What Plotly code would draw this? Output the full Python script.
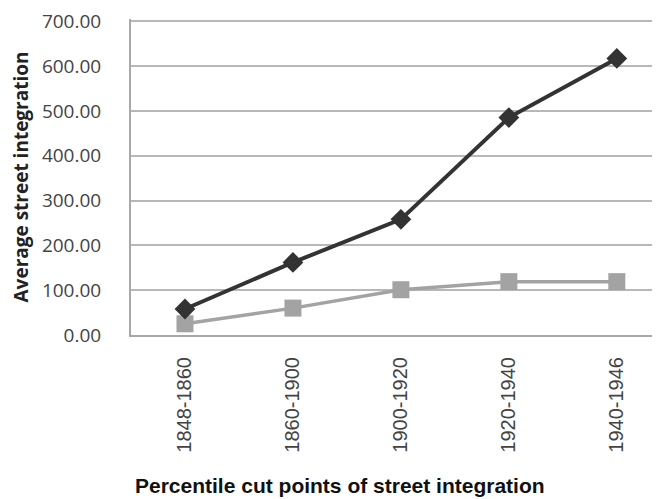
import plotly.graph_objects as go

periods = ["1848-1860", "1860-1900", "1900-1920", "1920-1940", "1940-1946"]
series_dark = [58, 162, 258, 485, 617]
series_light = [25, 60, 101, 119, 119]
y_ticks = [0, 100, 200, 300, 400, 500, 600, 700]

fig = go.Figure()
fig.add_trace(go.Scatter(
    x=periods, y=series_light, mode="lines+markers",
    line=dict(color="#a3a3a3", width=3.5),
    marker=dict(symbol="square", size=17, color="#a3a3a3"),
))
fig.add_trace(go.Scatter(
    x=periods, y=series_dark, mode="lines+markers",
    line=dict(color="#333333", width=4),
    marker=dict(symbol="diamond", size=16, color="#333333"),
))

# the page body has an 8px margin, so the figure is 8px smaller than the window
fig.update_layout(
    width=652, height=491, showlegend=False,
    paper_bgcolor="white", plot_bgcolor="white",
    margin=dict(l=123, r=0, t=7, b=164),
    font=dict(family="Open Sans", color="#444444"),
)
fig.update_xaxes(
    type="category", range=[-0.5, 4.4],
    tickangle=-90, ticklabelstandoff=12,
    tickfont=dict(family="Liberation Sans", size=20, color="#444444"),
    showgrid=False, showline=True, linecolor="#a8a8a8", linewidth=2,
)
fig.update_yaxes(
    range=[0, 705], tickvals=y_ticks,
    ticktext=[f"{v:.2f}" for v in y_ticks],
    tickfont=dict(family="Open Sans", size=19, color="#444444"),
    ticklabelstandoff=24, ticklabeloverflow="allow",
    showgrid=True, gridcolor="#b8b8b8", gridwidth=2,
    showline=True, linecolor="#a8a8a8", linewidth=2,
    zeroline=False,
    title=dict(text="Average street integration",
               font=dict(family="Open Sans", size=19, color="#222222",
                         weight="bold"),
               standoff=9),
)
fig.add_annotation(
    text="<b>Percentile cut points of street integration</b>",
    xref="paper", yref="paper", x=0.395, y=-0.475,
    xanchor="center", yanchor="middle", showarrow=False,
    font=dict(family="Liberation Sans", size=21, color="#111111"),
)

fig.write_html("out.html")
